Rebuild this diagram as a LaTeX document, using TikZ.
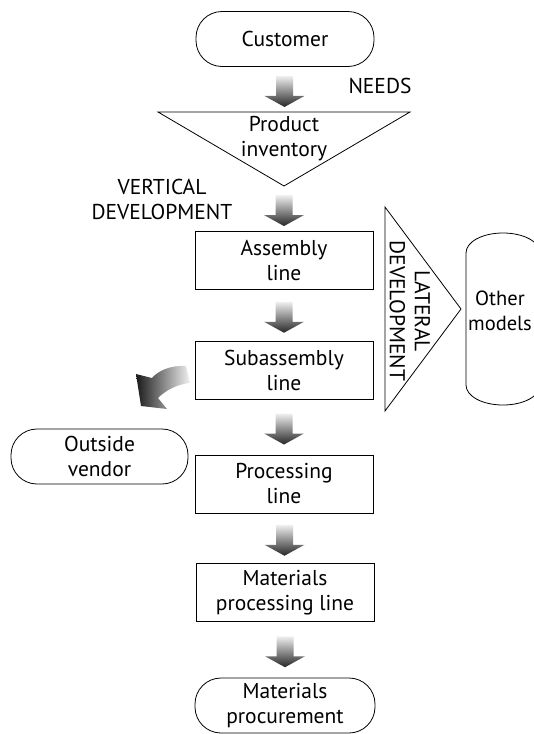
\documentclass[tikz,border=0pt]{standalone}
\usepackage{fontspec}
\setmainfont{PT Sans}
\usetikzlibrary{calc}

% fat shaded arrow pointing down, centred on the pic origin
\tikzset{
  fatarrow/.pic={
    \shade[top color=gray!12, bottom color=black!85]
      (-8.5,-15.5) -- (8.5,-15.5) -- (8.5,4.5) -- (20,4.5) -- (0,15.5)
      -- (-20,4.5) -- (-8.5,4.5) -- cycle;
  }
}
% place a fat arrow halfway between two named points
\newcommand\flowarrow[3]{%
  \path (#1) -- (#2) coordinate[pos=.5] (#3);
  \pic at ($(#3)+(0,2)$) {fatarrow};
}

\begin{document}
\begin{tikzpicture}[x=1pt,y=-1pt,
  every node/.style={font=\fontsize{21.5}{25}\selectfont, align=center, inner sep=0pt},
  stepbox/.style={draw, line width=0.8pt, minimum width=178pt, minimum height=58pt},
  pill/.style={draw, line width=0.8pt, rounded corners=26pt, minimum width=178pt, minimum height=55pt},
  outline/.style={draw, line width=0.8pt, line join=miter}
]
\useasboundingbox (0,0) rectangle (534,734);
\clip (0,0) rectangle (534,734);

% main vertical chain
\node[pill] (cust) at (285,39) {Customer};

\coordinate (invL) at (158,112);
\coordinate (invR) at (410,112);
\coordinate (invtop) at (284,112);
\coordinate (invtip) at (284,186);
\draw[outline] (invL) -- (invR) -- (invtip) -- cycle;
\node (inv) at (284,139) {Product\\inventory};

\node[stepbox] (asm)  at (284,260.5) {Assembly\\line};
\node[stepbox] (sub)  at (284,370)   {Subassembly\\line};
\node[stepbox] (proc) at (284,484)   {Processing\\line};
\node[stepbox] (mat)  at (285,592.5) {Materials\\processing line};
\node[pill, minimum width=180pt] (procure) at (285,705.5) {Materials\\procurement};

\node[pill, minimum width=177pt] (vendor) at (99.5,456.5) {Outside\\vendor};

% labels
\node (needs) at (380,86) {NEEDS};
\node (vert) at (162,199.5) {VERTICAL\\DEVELOPMENT};

% lateral development wedge
\coordinate (latT) at (385,207);
\coordinate (latB) at (385,411);
\coordinate (lattip) at (461,309);
\draw[outline] (latT) -- (lattip) -- (latB) -- cycle;
\node[rotate=-90] (lat) at (410,311) {LATERAL\\DEVELOPMENT};

% other models (upright capsule, runs past the right edge)
\draw[line width=0.8pt]
  (466,253) -- (466,385) .. controls (466,396) and (482,405) .. (503,405)
  .. controls (524,405) and (540,396) .. (540,385) -- (540,253)
  .. controls (540,242) and (524,233) .. (503,233)
  .. controls (482,233) and (466,242) .. (466,253) -- cycle;
\node[font=\fontsize{20.5}{25}\selectfont] (other) at (500,310.5) {Other\\models};

% fat arrows down the chain
\flowarrow{cust.south}{invtop}{a1}
\flowarrow{invtip}{asm.north}{a2}
\flowarrow{asm.south}{sub.north}{a3}
\flowarrow{sub.south}{proc.north}{a4}
\flowarrow{proc.south}{mat.north}{a5}
\flowarrow{mat.south}{procure.north}{a6}

% curved arrow out to the vendor
\shade[left color=black!90, right color=gray!10]
  (186,366) .. controls (170,365) and (158,371) .. (152,378)
  -- (136,374) -- (141,406) -- (167,409) -- (158,398)
  .. controls (166,390) and (178,384) .. (190,383) -- cycle;
\end{tikzpicture}
\end{document}
